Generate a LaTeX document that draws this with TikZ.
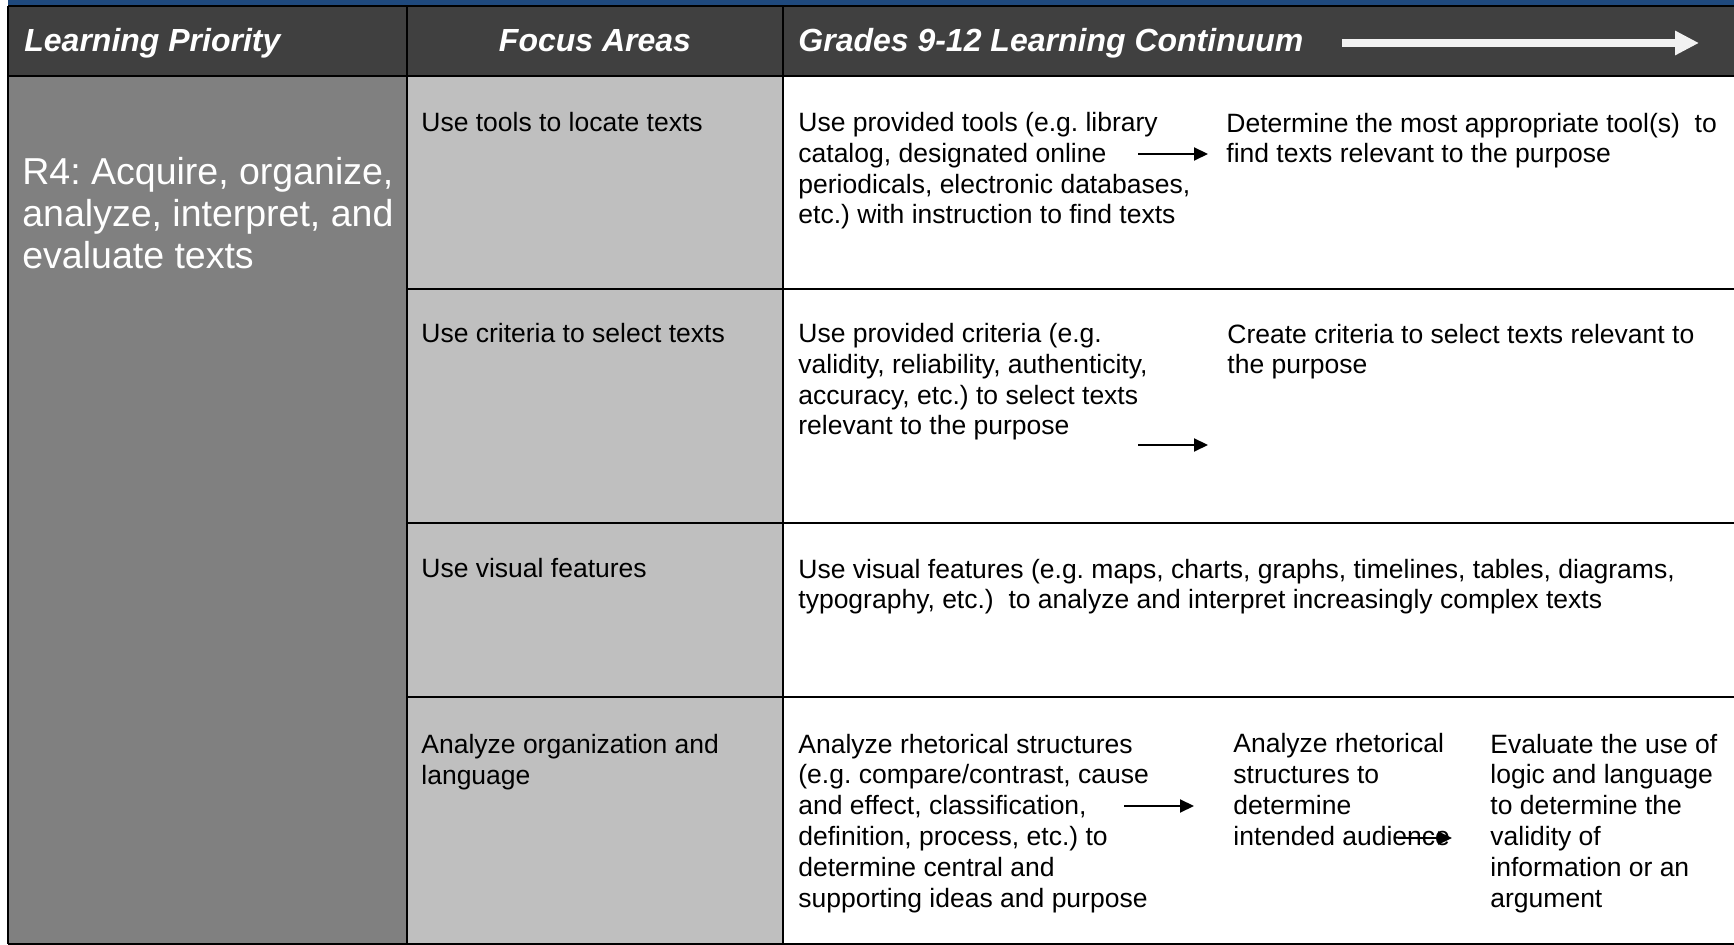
\documentclass[tikz,border=0pt]{standalone}
\usepackage{fontspec}
\setmainfont{Liberation Sans}
\usepackage{xcolor}
\usetikzlibrary{arrows.meta}
\frenchspacing

\definecolor{BandBlue}{RGB}{31,73,125}
\definecolor{HeadGray}{RGB}{64,64,64}
\definecolor{PrioGray}{RGB}{128,128,128}
\definecolor{FocusGray}{RGB}{191,191,191}
\definecolor{ArrowWhite}{RGB}{242,242,242}

\begin{document}
\begin{tikzpicture}[x=0.5pt,y=-0.5pt]
  \tikzset{>={Triangle[length=7pt,width=6.5pt]}}
  % multi-line nodes sit on the baseline of their last line
  \tikzset{
    head/.style={anchor=base west,inner sep=0pt,text=white,
      font=\fontsize{16}{19}\selectfont\bfseries\itshape},
    prio/.style={anchor=base west,inner sep=0pt,align=left,text=white,
      font=\fontsize{18.75}{21}\selectfont},
    cell/.style={anchor=base west,inner sep=0pt,align=left,
      font=\fontsize{13.25}{15.4}\selectfont},
    rule/.style={line width=1pt},
    flow/.style={->,line width=1pt}
  }
  \useasboundingbox (0,0) rectangle (1734,945);

  % cell backgrounds
  \fill[BandBlue] (8,0) rectangle (1734,6);
  \fill[HeadGray] (8,6) rectangle (1734,76);
  \fill[PrioGray] (8,76) rectangle (407,944);
  \fill[FocusGray] (407,76) rectangle (783,944);

  % table rules
  \draw[rule] (8,6) -- (1734,6);
  \draw[rule] (8,76) -- (1734,76);
  \foreach \y in {289,523,697}
    \draw[rule] (407,\y) -- (1734,\y);
  \draw[rule] (8,943.5) -- (1734,943.5);
  \foreach \x in {8,407,783}
    \draw[rule] (\x,6) -- (\x,944);

  % header row
  \node[head] (prio-h) at (24,52) {Learning Priority};
  \node[head,anchor=base] (focus-h) at (595,52) {Focus Areas};
  \node[head] (cont-h) at (798,52) {Grades 9-12 Learning Continuum};
  \coordinate (go-s) at (1342,43);
  \coordinate (go-e) at (1699,43);
  \draw[ArrowWhite,line width=4pt,-{Triangle[length=12pt,width=11.5pt]}]
    (go-s) -- (go-e);

  % learning priority
  \node[prio] (prio) at (22,269)
    {R4: Acquire, organize,\\analyze, interpret, and\\evaluate texts};

  % focus areas
  \node[cell] (f1) at (421,132) {Use tools to locate texts};
  \node[cell] (f2) at (421,343) {Use criteria to select texts};
  \node[cell] (f3) at (421,578) {Use visual features};
  \node[cell] (f4) at (421,784) {Analyze organization and\\language};

  % continuum
  \node[cell] (c1a) at (798,224) {Use provided tools (e.g. library\\catalog,
    designated online\\periodicals, electronic databases,\\etc.) with
    instruction to find texts};
  \node[cell] (c1b) at (1226,163) {Determine the most appropriate
    tool(s)\ \ to\\find texts relevant to the purpose};
  \node[cell] (c2a) at (798,435) {Use provided criteria (e.g.\\validity,
    reliability, authenticity,\\accuracy, etc.) to select texts\\relevant
    to the purpose};
  \node[cell] (c2b) at (1227,374) {Create criteria to select texts
    relevant to\\the purpose};
  \node[cell] (c3) at (798,609) {Use visual features (e.g. maps, charts,
    graphs, timelines, tables, diagrams,\\typography, etc.)\ \ to analyze
    and interpret increasingly complex texts};
  \node[cell] (c4a) at (798,907) {Analyze rhetorical structures\\(e.g.
    compare/contrast, cause\\and effect, classification,\\definition,
    process, etc.) to\\determine central and\\supporting ideas and purpose};
  \node[cell] (c4b) at (1233,845) {Analyze rhetorical\\structures
    to\\determine\\intended audience};
  \node[cell] (c4c) at (1490,907) {Evaluate the use of\\logic and
    language\\to determine the\\validity of\\information or an\\argument};

  % continuum arrows
  \coordinate (s1) at (1138,154);
  \coordinate (e1) at (1208,154);
  \coordinate (s2) at (1138,445);
  \coordinate (e2) at (1208,445);
  \coordinate (s3) at (1124,806);
  \coordinate (e3) at (1194,806);
  \coordinate (s4) at (1398,838);
  \coordinate (e4) at (1452,838);
  \draw[flow] (s1) -- (e1);
  \draw[flow] (s2) -- (e2);
  \draw[flow] (s3) -- (e3);
  \draw[flow] (s4) -- (e4);

\end{tikzpicture}
\end{document}
